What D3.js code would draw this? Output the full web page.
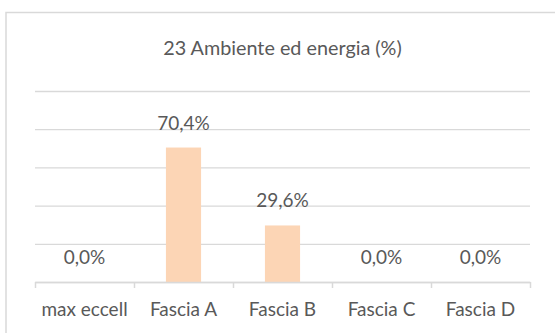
<!DOCTYPE html>
<html>
<head>
<meta charset="utf-8">
<script src="https://cdn.jsdelivr.net/npm/d3@7"></script>
<style>
  html, body { margin: 0; padding: 0; background: #ffffff; }
  svg { display: block; }
  text { font-family: Lato, "Open Sans", sans-serif; fill: #595959; }
</style>
</head>
<body>
<svg id="chart" width="555" height="333"></svg>
<script>
// Chart data
const title = "23 Ambiente ed energia (%)";
const categories = ["max eccell", "Fascia A", "Fascia B", "Fascia C", "Fascia D"];
const values = [0.0, 70.4, 29.6, 0.0, 0.0];
const yTicks = [0, 20, 40, 60, 80, 100];

const W = 555, H = 333;
const plot = { left: 35, right: 530, top: 91, bottom: 282 };

const svg = d3.select("#chart");

// Italian number formatting (decimal comma)
const it = d3.formatLocale({ decimal: ",", thousands: ".", grouping: [3], currency: ["€", ""] });
const fmt = v => it.format(".1f")(v) + "%";

// Outer frame of the chart area
svg.append("path")
  .attr("d", `M6,${H} L6,12.5 L${W},12.5`)
  .attr("fill", "none")
  .attr("stroke", "#d9d9d9")
  .attr("stroke-width", 1.5);

// Title
svg.append("text")
  .attr("x", (plot.left + plot.right) / 2)
  .attr("y", 55)
  .attr("text-anchor", "middle")
  .style("font-size", "19.8px")
  .text(title);

const x = d3.scaleBand()
  .domain(categories)
  .range([plot.left, plot.right])
  .paddingInner(0.645)
  .paddingOuter(0.3225);

const y = d3.scaleLinear()
  .domain([0, 100])
  .range([plot.bottom, plot.top]);

// Horizontal gridlines
const grid = svg.append("g")
  .attr("transform", `translate(${plot.left},0)`)
  .call(d3.axisLeft(y).tickValues(yTicks).tickSize(-(plot.right - plot.left)).tickFormat(""));
grid.select(".domain").remove();
grid.selectAll(".tick line").attr("stroke", "#d9d9d9").attr("stroke-width", 1.3);

// Bars
svg.append("g")
  .selectAll("rect")
  .data(values)
  .join("rect")
  .attr("x", (d, i) => x(categories[i]))
  .attr("width", x.bandwidth())
  .attr("y", d => y(d))
  .attr("height", d => y(0) - y(d))
  .attr("fill", "#fcd5b5");

// Category axis: line, boundary ticks and labels
const boundaries = categories.map(c => x(c) - x.step() * x.paddingInner() / 2)
  .concat([plot.right]);
boundaries[0] = plot.left;
const xb = d3.scaleLinear().domain([plot.left, plot.right]).range([plot.left, plot.right]);
const axisTicks = svg.append("g")
  .attr("transform", `translate(0,${plot.bottom})`)
  .call(d3.axisBottom(xb).tickValues(boundaries).tickSize(6).tickSizeOuter(0).tickFormat(""));
axisTicks.select(".domain").attr("stroke", "#d9d9d9").attr("stroke-width", 1.5);
axisTicks.selectAll(".tick line").attr("stroke", "#d9d9d9").attr("stroke-width", 1.5);

const labels = svg.append("g")
  .attr("transform", `translate(0,${plot.bottom})`)
  .call(d3.axisBottom(x).tickSize(0).tickPadding(21));
labels.select(".domain").remove();
labels.selectAll(".tick text")
  .attr("fill", "#595959")
  .style("font-family", "Lato, 'Open Sans', sans-serif")
  .style("font-size", "19px");

// Data labels above each bar
svg.append("g")
  .selectAll("text")
  .data(values)
  .join("text")
  .attr("x", (d, i) => x(categories[i]) + x.bandwidth() / 2)
  .attr("y", d => y(d) - 18)
  .attr("text-anchor", "middle")
  .style("font-size", "19px")
  .text(d => fmt(d));
</script>
</body>
</html>
